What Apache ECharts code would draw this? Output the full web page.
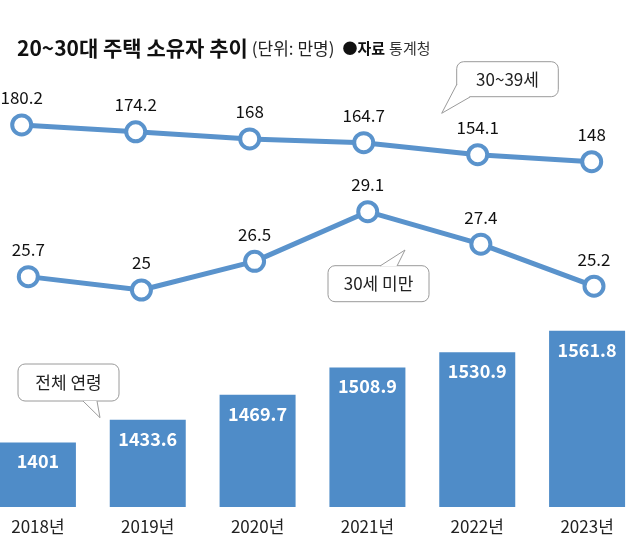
<!DOCTYPE html>
<html><head><meta charset="utf-8">
<script src="https://cdn.jsdelivr.net/npm/echarts@6/dist/echarts.min.js"></script>
<style>html,body{margin:0;padding:0;background:#fff;overflow:hidden;width:640px;height:551px}#c{position:absolute;left:-17px;top:0;width:674px;height:551px}</style>
</head><body><div id="c"></div>
<script>
const years = ['2018년','2019년','2020년','2021년','2022년','2023년'];
const age30s = [180.2, 174.2, 168, 164.7, 154.1, 148];
const under30 = [25.7, 25, 26.5, 29.1, 27.4, 25.2];
const total = [1401, 1433.6, 1469.7, 1508.9, 1530.9, 1561.8];

const FONT = '"Noto Sans CJK KR", "Noto Sans", sans-serif';
const LINE_C = '#5a93cc';
const BAR_C = '#4f8cc8';
const OX = 17; // container is shifted 17px left

function bubble(x, y, w, h, tail, text) {
  x += OX;
  tail = tail.map(p => [p[0] + OX, p[1]]);
  return [
    {type:'rect', shape:{x:x, y:y, width:w, height:h, r:7}, style:{fill:'#fff', stroke:'#9a9a9a', lineWidth:1}, z:10},
    {type:'polygon', shape:{points:tail}, style:{fill:'#fff'}, z:11},
    {type:'polyline', shape:{points:[tail[0], tail[2], tail[1]]}, style:{stroke:'#9a9a9a', lineWidth:1, fill:null}, z:12},
    {type:'text', x:x + w/2, y:y + h/2, style:{text:text, fill:'#222', font:'17px ' + FONT, align:'center', verticalAlign:'middle'}, z:13}
  ];
}

const chart = echarts.init(document.getElementById('c'), null, {renderer:'canvas'});
const lineLabel = {show:true, position:'top', distance:7, color:'#111', fontSize:17, fontFamily:FONT};
chart.setOption({
  animation:false,
  textStyle:{fontFamily:FONT},
  title:{
    left:12 + OX, top:33,
    text:'{a|20~30대 주택 소유자 추이} {b|(단위: 만명)}  {c|●자료} {d|통계청}',
    textStyle:{
      fontWeight:'normal',
      rich:{
        a:{fontSize:21, fontWeight:'bold', color:'#111', fontFamily:FONT},
        b:{fontSize:17, fontWeight:'normal', color:'#222', fontFamily:FONT},
        c:{fontSize:15, fontWeight:'bold', color:'#111', fontFamily:FONT},
        d:{fontSize:15, fontWeight:'normal', color:'#333', fontFamily:FONT}
      }
    }
  },
  grid:[
    {left:21.7 + OX, width:570, top:102.4, height:68.4},
    {left:28.3 + OX, width:565.7, top:194.5, height:114.6},
    {left:0, width:659, top:300, height:207}
  ],
  xAxis:[
    {gridIndex:0, type:'category', data:years, boundaryGap:false, show:false},
    {gridIndex:1, type:'category', data:years, boundaryGap:false, show:false},
    {gridIndex:2, type:'category', data:years, axisLine:{show:false}, axisTick:{show:false},
     axisLabel:{color:'#222', fontSize:17, margin:11, fontFamily:FONT, interval:0}}
  ],
  yAxis:[
    {gridIndex:0, type:'value', min:140, max:200, show:false, splitLine:{show:false}},
    {gridIndex:1, type:'value', min:24, max:30, show:false, splitLine:{show:false}},
    {gridIndex:2, type:'value', min:1308, max:1606, show:false, splitLine:{show:false}}
  ],
  series:[
    {type:'line', xAxisIndex:0, yAxisIndex:0, data:age30s, symbol:'circle', symbolSize:19,
     lineStyle:{color:LINE_C, width:5}, itemStyle:{color:'#fff', borderColor:LINE_C, borderWidth:4},
     label:lineLabel, z:3},
    {type:'line', xAxisIndex:1, yAxisIndex:1, data:under30, symbol:'circle', symbolSize:19,
     lineStyle:{color:LINE_C, width:5}, itemStyle:{color:'#fff', borderColor:LINE_C, borderWidth:4},
     label:lineLabel, z:3},
    {type:'bar', xAxisIndex:2, yAxisIndex:2, data:total, barWidth:76,
     itemStyle:{color:BAR_C},
     label:{show:true, position:'insideTop', distance:10, color:'#fff', fontSize:18, fontWeight:'bold', fontFamily:FONT}}
  ],
  graphic:[]
    .concat(bubble(456.7, 61.7, 101.6, 35, [[457,84],[470,97],[441.7,113.3]], '30~39세'))
    .concat(bubble(328, 265.7, 101, 36, [[380,266],[397,266],[405,250]], '30세 미만'))
    .concat(bubble(18, 364, 101, 37, [[83,401],[97,401],[100,417.7]], '전체 연령'))
});
</script></body></html>
